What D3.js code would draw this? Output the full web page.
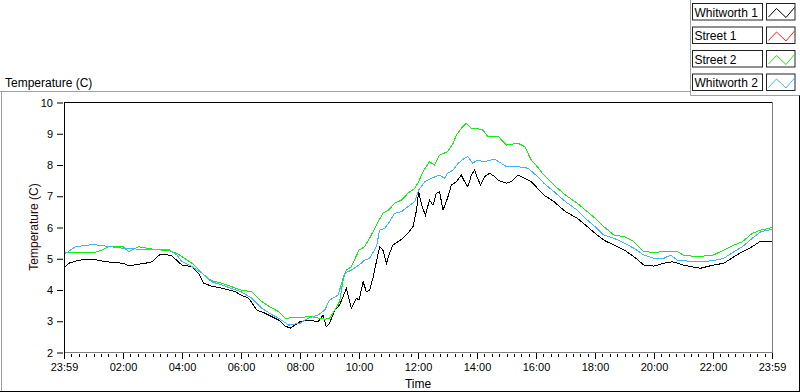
<!DOCTYPE html>
<html>
<head>
<meta charset="utf-8">
<script src="https://cdn.jsdelivr.net/npm/d3@7"></script>
<style>
  body { margin: 0; background: #fff; }
  svg { display: block; font-family: "Liberation Sans", Arial, sans-serif; }
</style>
</head>
<body>
<svg id="chart" width="800" height="392"></svg>
<script>
// series names + colours, in legend order
var seriesNames = ["Whitworth 1", "Street 1", "Street 2", "Whitworth 2"];
var seriesColors = ["#000000", "#ff2020", "#10ee10", "#3fb4f8"];

// x tick labels (every 2 hours, axis runs 23:59 -> 23:59)
var xTickHours = [0, 2, 4, 6, 8, 10, 12, 14, 16, 18, 20, 22, 24];
var xTickLabels = ["23:59", "02:00", "04:00", "06:00", "08:00", "10:00", "12:00",
                   "14:00", "16:00", "18:00", "20:00", "22:00", "23:59"];
var yTicks = [2, 3, 4, 5, 6, 7, 8, 9, 10];

// [hour, temperature]
var whitworth1 = [[0,4.68],[0.16,4.84],[0.5,4.94],[1.0,4.97],[1.4,4.89],[2.0,4.84],[2.19,4.76],[2.76,4.84],[3.0,4.89],
  [3.21,5.10],[3.44,5.13],[3.66,5.07],[4.0,4.78],[4.34,4.73],[4.56,4.52],[4.73,4.2],[5.0,4.11],[5.36,4.04],[5.81,3.93],
  [6.0,3.82],[6.26,3.72],[6.54,3.34],[6.82,3.24],[7.0,3.15],[7.28,3.02],[7.5,2.83],[7.67,2.76],[8.0,2.97],[8.27,3.02],
  [8.61,2.97],[8.78,3.18],[8.89,2.81],[9.0,2.92],[9.18,3.34],[9.34,3.5],[9.46,3.77],[9.57,4.04],[9.74,3.4],[9.91,3.72],
  [10.0,3.66],[10.14,4.25],[10.25,3.93],[10.36,3.98],[10.47,4.36],[10.59,4.89],[10.70,5.37],[10.81,5.26],[10.93,4.84],
  [11.04,5.16],[11.15,5.42],[11.32,5.53],[11.49,5.64],[11.66,5.8],[11.83,6.01],[11.95,6.54],[12.02,7.13],[12.14,6.65],
  [12.25,6.38],[12.39,6.86],[12.51,6.7],[12.62,7.08],[12.73,7.13],[12.85,6.54],[13.0,6.92],[13.13,7.34],[13.30,7.45],
  [13.47,7.66],[13.58,7.45],[13.69,7.29],[13.81,7.66],[13.92,7.82],[14.0,7.61],[14.12,7.34],[14.26,7.61],[14.43,7.72],
  [14.6,7.61],[14.71,7.5],[15.0,7.4],[15.16,7.45],[15.39,7.66],[15.62,7.56],[15.84,7.45],[16.0,7.29],[16.27,7.02],
  [16.61,6.81],[17.0,6.49],[17.4,6.28],[17.74,6.01],[18.0,5.8],[18.3,5.58],[18.64,5.42],[19.0,5.26],[19.32,5.05],
  [19.66,4.78],[20.0,4.75],[20.34,4.84],[20.62,4.89],[21.0,4.78],[21.36,4.71],[21.58,4.68],[22.0,4.78],[22.37,4.84],
  [22.71,5.05],[23.0,5.21],[23.33,5.37],[23.62,5.55],[24.0,5.53]];

var street1 = []; // in the legend, no trace visible

var street2 = [[0,5.19],[1.06,5.19],[1.29,5.26],[1.57,5.39],[2.0,5.37],[2.19,5.21],[2.53,5.37],[3.0,5.29],[3.55,5.24],
  [3.83,5.16],[4.0,5.05],[4.34,4.84],[4.68,4.52],[5.0,4.28],[5.36,4.2],[6.0,3.98],[6.37,3.93],[6.71,3.61],[7.0,3.43],
  [7.28,3.29],[7.5,3.08],[8.0,3.11],[8.38,3.13],[8.84,3.05],[9.0,3.08],[9.18,3.34],[9.34,3.61],[9.46,4.3],[9.57,4.62],
  [9.74,4.73],[10.0,5.26],[10.19,5.37],[10.36,5.64],[10.59,6.06],[10.81,6.44],[11.0,6.54],[11.21,6.76],[11.44,6.86],
  [11.66,7.08],[11.89,7.24],[12.02,7.45],[12.17,7.77],[12.39,8.09],[12.56,7.98],[12.73,8.3],[13.0,8.41],[13.19,8.68],
  [13.30,8.94],[13.47,9.16],[13.64,9.32],[13.81,9.16],[14.0,9.16],[14.2,9.1],[14.37,8.89],[14.71,8.91],[15.0,8.62],
  [15.39,8.68],[15.62,8.57],[15.84,8.14],[16.0,7.98],[16.27,7.66],[16.61,7.34],[17.0,7.02],[17.4,6.76],[17.74,6.49],
  [18.0,6.28],[18.3,6.01],[18.64,5.74],[19.0,5.69],[19.32,5.53],[19.66,5.21],[20.0,5.19],[20.34,5.21],[20.79,5.21],
  [21.0,5.1],[21.47,5.05],[22.0,5.1],[22.37,5.26],[22.71,5.42],[23.0,5.53],[23.33,5.8],[23.62,5.9],[24.0,5.98]];

var whitworth2 = [[0,5.12],[0.1,5.18],[0.38,5.37],[1.0,5.44],[1.4,5.39],[2.0,5.32],[2.53,5.29],[3.0,5.29],[3.55,5.29],
  [3.83,5.1],[4.0,4.89],[4.34,4.73],[4.68,4.52],[5.0,4.25],[5.36,4.14],[6.0,3.93],[6.37,3.72],[6.71,3.4],[7.0,3.22],
  [7.28,3.08],[7.62,2.86],[8.0,2.92],[8.27,3.08],[8.61,3.18],[8.84,3.34],[9.0,3.66],[9.29,3.82],[9.51,4.52],[9.74,4.62],
  [10.0,4.78],[10.19,4.94],[10.36,5.0],[10.59,5.37],[10.70,5.9],[10.87,5.96],[11.0,6.12],[11.21,6.44],[11.44,6.49],
  [11.66,6.65],[11.89,6.81],[12.02,7.18],[12.23,7.45],[12.45,7.56],[12.73,7.66],[12.9,7.56],[13.0,7.72],[13.19,7.82],
  [13.36,8.04],[13.58,8.2],[13.69,8.25],[13.86,8.04],[14.0,8.14],[14.26,8.09],[14.6,8.17],[15.0,7.93],[15.39,7.93],
  [15.73,7.88],[16.0,7.66],[16.27,7.4],[16.61,7.13],[17.0,6.81],[17.4,6.54],[17.74,6.22],[18.0,6.01],[18.3,5.74],
  [18.64,5.64],[19.0,5.48],[19.32,5.32],[19.66,5.1],[20.0,5.0],[20.34,5.0],[20.56,5.1],[20.79,4.94],[21.0,4.92],
  [21.47,4.89],[22.0,4.92],[22.37,5.0],[22.71,5.21],[23.0,5.37],[23.33,5.64],[23.62,5.85],[24.0,5.92]];

var allSeries = [whitworth1, street1, street2, whitworth2];

//plot area (note: "top" is taken by window.top, so prefixed names)
var plotLeft = 64, plotRight = 772, plotTop = 102, plotBottom = 352;
var svg = d3.select("#chart");

var x = d3.scaleLinear().domain([0, 24]).range([plotLeft, plotRight]);
var y = d3.scaleLinear().domain([2, 10]).range([plotBottom, plotTop]);

// outer frame
svg.append("line").attr("x1", 0).attr("x2", 690).attr("y1", 91.5).attr("y2", 91.5).attr("stroke", "#a0a0a0");
svg.append("line").attr("x1", 1.5).attr("x2", 1.5).attr("y1", 91.5).attr("y2", 392).attr("stroke", "#a0a0a0");
svg.append("line").attr("x1", 690.5).attr("x2", 690.5).attr("y1", 0).attr("y2", 95.5).attr("stroke", "#a0a0a0");
svg.append("line").attr("x1", 690.5).attr("x2", 800).attr("y1", 95.5).attr("y2", 95.5).attr("stroke", "#a0a0a0");
svg.append("line").attr("x1", 0).attr("x2", 800).attr("y1", 391.5).attr("y2", 391.5).attr("stroke", "#000");
svg.append("line").attr("x1", 799.5).attr("x2", 799.5).attr("y1", 95.5).attr("y2", 392).attr("stroke", "#000");

svg.append("text").attr("x", 5).attr("y", 87).attr("font-size", "12px").attr("fill", "#000")
  .text("Temperature (C)");

// plot border: top/left dark, right/bottom gray
svg.append("line").attr("x1", plotLeft + 0.5).attr("x2", plotLeft + 0.5).attr("y1", plotTop).attr("y2", plotBottom + 1).attr("stroke", "#000");
svg.append("line").attr("x1", plotLeft).attr("x2", plotRight + 1).attr("y1", plotTop + 0.5).attr("y2", plotTop + 0.5).attr("stroke", "#000");
svg.append("line").attr("x1", plotRight + 0.5).attr("x2", plotRight + 0.5).attr("y1", plotTop).attr("y2", plotBottom + 1).attr("stroke", "#808080");
svg.append("line").attr("x1", plotLeft + 1).attr("x2", plotRight + 1).attr("y1", plotBottom + 0.5).attr("y2", plotBottom + 0.5).attr("stroke", "#808080");

// y axis
var yAxis = d3.axisLeft(y).tickValues(yTicks).tickSize(6).tickPadding(4).tickFormat(d3.format("d"));
var gy = svg.append("g").attr("transform", "translate(" + (plotLeft - 1) + ",0.5)").call(yAxis);
gy.select(".domain").remove();
gy.selectAll("text").attr("font-size", "11px").attr("font-family", "Liberation Sans, Arial, sans-serif").attr("fill", "#000");

svg.append("text").attr("transform", "translate(38,227) rotate(-90)")
  .attr("text-anchor", "middle").attr("font-size", "12px").attr("fill", "#2a0808")
  .text("Temperature (C)");

// x axis: minor ticks every 15 min, labelled ticks every 2 h
var minorTicks = d3.range(0, 24.01, 0.25);
svg.append("g").selectAll("line").data(minorTicks).join("line")
  .attr("x1", d => Math.round(x(d)) + 0.5).attr("x2", d => Math.round(x(d)) + 0.5)
  .attr("y1", plotBottom + 2).attr("y2", plotBottom + 5).attr("stroke", "#000");

var xAxis = d3.axisBottom(x).tickValues(xTickHours).tickSize(6).tickPadding(4)
  .tickFormat((d, i) => xTickLabels[i]);
var gx = svg.append("g").attr("transform", "translate(0," + (plotBottom + 1) + ")").call(xAxis);
gx.select(".domain").remove();
gx.selectAll("text").attr("font-size", "11px").attr("font-family", "Liberation Sans, Arial, sans-serif").attr("fill", "#000");

svg.append("text").attr("x", (plotLeft + plotRight) / 2).attr("y", 388).attr("text-anchor", "middle")
  .attr("font-size", "12px").attr("fill", "#000").text("Time");

// traces
svg.append("clipPath").attr("id", "plotclip").append("rect")
  .attr("x", plotLeft + 1).attr("y", plotTop + 1).attr("width", plotRight - plotLeft - 1).attr("height", plotBottom - plotTop - 1);

var line = d3.line().x(d => x(d[0])).y(d => y(d[1]));
svg.append("g").attr("clip-path", "url(#plotclip)")
  .selectAll("path").data(allSeries).join("path")
  .attr("d", d => d.length ? line(d) : null)
  .attr("fill", "none")
  .attr("stroke", (d, i) => seriesColors[i])
  .attr("stroke-width", 1)
  .attr("shape-rendering", "crispEdges");

// legend
var rowTop = [3.5, 27, 50.5, 74];
var leg = svg.append("g").selectAll("g").data(seriesNames).join("g")
  .attr("transform", (d, i) => "translate(0," + rowTop[i] + ")");
leg.append("rect").attr("x", 692.5).attr("y", 0).attr("width", 70).attr("height", 16.5)
  .attr("fill", "#fff").attr("stroke", "#222");
leg.append("text").attr("x", 694.5).attr("y", 13).attr("font-size", "12px").attr("fill", "#000").text(d => d);
leg.append("rect").attr("x", 766.5).attr("y", 0).attr("width", 28.5).attr("height", 16.5)
  .attr("fill", "#fff").attr("stroke", "#222");
leg.append("polyline")
  .attr("points", "768.5,13.5 776.5,5 786,14 794.5,4")
  .attr("fill", "none").attr("stroke", (d, i) => seriesColors[i]).attr("stroke-width", 1);
</script>
</body>
</html>
